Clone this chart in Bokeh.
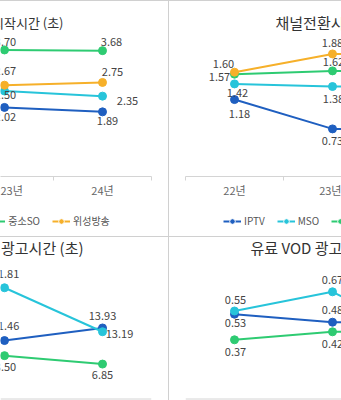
from bokeh.plotting import figure
from bokeh.models import (ColumnDataSource, Range1d, FixedTicker, Legend,
                          LegendItem, Span, Spacer, Label)
from bokeh.layouts import row, column
from bokeh.embed import file_html
from bokeh.resources import INLINE
from bokeh.core.properties import value

# ---------------- data ----------------
years = ["22년", "23년", "24년"]
series = ["IPTV", "MSO", "중소SO", "위성방송"]

# VOD 시작시간 (초) – visible years 23년, 24년
start_years = ["23년", "24년"]
start_iptv = [2.02, 1.89]
start_mso = [2.50, 2.35]
start_small = [3.70, 3.68]
start_sat = [2.67, 2.75]

# 채널전환시간 (초) – visible years 22년, 23년 (24년 only as a short stub)
switch_years = ["22년", "23년", "24년"]
switch_iptv = [1.18, 0.73, 0.72]
switch_mso = [1.42, 1.38, 1.37]
switch_small = [1.57, 1.62, 1.62]
switch_sat = [1.60, 1.88, 1.87]

# 무료 VOD 광고시간 (초)
free_years = ["23년", "24년"]
free_iptv = [11.46, 13.93]
free_mso = [21.81, 13.19]
free_small = [8.50, 6.85]

# 유료 VOD 광고시간 (초)
paid_years = ["22년", "23년", "24년"]
paid_iptv = [0.53, 0.48, 0.47]
paid_mso = [0.55, 0.67, 0.36]
paid_small = [0.37, 0.42, 0.42]

titles = ["VOD 시작시간 (초)", "채널전환시간 (초)", "무료 VOD 광고시간 (초)", "유료 VOD 광고시간 (초)"]

# ---------------- styles ----------------
colors = {"IPTV": "#1f5fc0", "MSO": "#27c4da", "중소SO": "#2ecb72", "위성방송": "#f6b02a"}
FONT = "Noto Sans CJK KR"
GRID = "#d4d4d4"

# label offsets in pixels (dx, dy) per panel / series / point
offsets = {
    "start": {"IPTV": [(1, 10), (5, 9)], "MSO": [(1, 4), (25, 5)],
              "중소SO": [(1, -8), (9, -9)], "위성방송": [(1, -14), (10, -10)]},
    "switch": {"IPTV": [(5, 14), (0, 12), (0, 12)], "MSO": [(3, 9), (1, 12), (0, 12)],
               "중소SO": [(-15, 3), (1, -9), (0, -9)], "위성방송": [(-11, -8), (0, -11), (0, -11)]},
    "free": {"IPTV": [(1, -15), (0, -12)], "MSO": [(1, -14), (17, 2)],
             "중소SO": [(1, 11), (0, 11)]},
    "paid": {"IPTV": [(1, 9), (0, -12), (0, -12)], "MSO": [(1, -11), (0, -12), (0, -12)],
             "중소SO": [(1, 12), (0, 12), (0, 12)]},
}

idx = {y: i for i, y in enumerate(years)}


def make_panel(key, yrs, data, width, height, x_start, x_end, y_start, y_end,
               b_left, b_right, b_top, b_bottom, with_axis, title=None,
               title_align="left", title_offset=0, title_standoff=0, title_size="15px"):
    p = figure(width=width, height=height, output_backend="svg", toolbar_location=None,
               x_range=Range1d(x_start, x_end), y_range=Range1d(y_start, y_end),
               y_axis_location=None, x_axis_location="below" if with_axis else None,
               min_border_left=b_left, min_border_right=b_right,
               min_border_top=b_top, min_border_bottom=b_bottom, title=title)
    p.grid.visible = False
    p.outline_line_color = None
    p.background_fill_color = "white"
    p.border_fill_color = "white"
    if title is not None:
        p.title.align = title_align
        p.title.offset = title_offset
        p.title.standoff = title_standoff
        p.title.vertical_align = "bottom"
        p.title.text_font = FONT
        p.title.text_font_size = title_size
        p.title.text_font_style = "normal"
        p.title.text_color = "#333"
    xs = [idx[y] for y in yrs]
    label_src = {"x": [], "y": [], "t": [], "dx": [], "dy": []}
    for name, vals in data.items():
        src = ColumnDataSource(dict(x=xs, y=vals))
        p.line("x", "y", source=src, line_color=colors[name], line_width=2)
        p.scatter("x", "y", source=src, size=8, marker="circle",
                  fill_color=colors[name], line_color=colors[name])
        for i, v in enumerate(vals):
            dx, dy = offsets[key][name][i]
            label_src["x"].append(xs[i])
            label_src["y"].append(v)
            label_src["t"].append(f"{v:.2f}")
            label_src["dx"].append(dx)
            label_src["dy"].append(dy)
    p.text("x", "y", text="t", x_offset="dx", y_offset="dy",
           source=ColumnDataSource(label_src), text_align="center", text_baseline="middle",
           text_font=value(FONT), text_font_size="11px", text_color="#444")
    if with_axis:
        ax = p.xaxis[0]
        ax.ticker = FixedTicker(ticks=[0, 1, 2], minor_ticks=[-0.5, 0.5, 1.5, 2.5])
        ax.major_label_overrides = {i: y for i, y in enumerate(years)}
        ax.axis_line_color = GRID
        ax.major_tick_line_color = None
        ax.major_tick_in = 0
        ax.major_tick_out = 0
        ax.minor_tick_line_color = GRID
        ax.minor_tick_in = 0
        ax.minor_tick_out = 4
        ax.major_label_standoff = 1
        ax.major_label_text_font = FONT
        ax.major_label_text_font_size = "11px"
        ax.major_label_text_color = "#666"
    else:
        p.add_layout(Span(location=0, dimension="width", line_color=GRID, line_width=1))
    return p


def strip(width, height, title=""):
    p = figure(width=width, height=height, output_backend="svg", toolbar_location=None,
               x_range=Range1d(0, 1), y_range=Range1d(0, 1), title=title,
               x_axis_location=None, y_axis_location=None,
               min_border_left=0, min_border_right=0, min_border_top=0, min_border_bottom=0)
    p.grid.visible = False
    p.outline_line_color = None
    return p


def legend_fig(width, height, x, y):
    """A strip that only holds the shared legend (IPTV / MSO / 중소SO / 위성방송)."""
    p = strip(width, height)
    items = []
    nan = float("nan")
    for n in series:
        src = ColumnDataSource(dict(x=[nan], y=[nan]))
        l = p.line("x", "y", source=src, line_color=colors[n], line_width=2)
        s = p.scatter("x", "y", source=src, size=6, marker="circle",
                      fill_color=colors[n], line_color="white", line_width=1)
        items.append(LegendItem(label=n, renderers=[l, s]))
    lg = Legend(items=items, orientation="horizontal", location=(x, y),
                glyph_width=18, glyph_height=14, label_height=14, label_standoff=3,
                spacing=12, padding=0, margin=0, border_line_color=None,
                background_fill_alpha=0, label_text_font=FONT,
                label_text_font_size="10px", label_text_color="#555")
    p.add_layout(lg, "center")
    return p


def title_fig(width, height, text, x, align):
    """A strip that holds a panel title, placed so that it is cut by the page edge."""
    p = strip(width, height, title=None)
    p.add_layout(Label(x=x, y=height / 2, x_units="screen", y_units="screen", text=text,
                       text_align=align, text_baseline="middle", text_font=FONT,
                       text_font_size="15px", text_color="#333"))
    return p


BAND = 98.0
TOP_B = 33
CHART_H = 200
LEG_H = 35
BT_H = 20          # bottom title strip height
BC_H = 143         # bottom chart height

# top-left
tl = make_panel("start", start_years,
                {"IPTV": start_iptv, "MSO": start_mso, "중소SO": start_small, "위성방송": start_sat},
                168, CHART_H, 1 - 4 / BAND, 1 - 4 / BAND + 151 / BAND, 0, (175 - TOP_B) / 34.2,
                0, 17, TOP_B, CHART_H - 175, True, titles[0], "right", 88, 6, "13px")
tl_leg = legend_fig(168, LEG_H, -121, 8)

# top-right
tr = make_panel("switch", switch_years,
                {"IPTV": switch_iptv, "MSO": switch_mso, "중소SO": switch_small, "위성방송": switch_sat},
                172, CHART_H, -0.5, -0.5 + 156 / BAND, 0, (175 - TOP_B) / 65.2,
                16, 0, TOP_B, CHART_H - 175, True, titles[1], "left", 90, 3, "15px")
tr_leg = legend_fig(172, LEG_H, 38, 8)

# bottom-left
bl_t = title_fig(168, BT_H, titles[2], 83, "right")
bl = make_panel("free", free_years,
                {"IPTV": free_iptv, "MSO": free_mso, "중소SO": free_small},
                168, BC_H, 1 - 4 / BAND, 1 - 4 / BAND + 151 / BAND,
                -1.5 / 5.1, -1.5 / 5.1 + BC_H / 5.1,
                0, 17, 0, 0, False)

# bottom-right
br_t = title_fig(172, BT_H, titles[3], 65, "left")
br = make_panel("paid", paid_years,
                {"IPTV": paid_iptv, "MSO": paid_mso, "중소SO": paid_small},
                172, BC_H, -0.5, -0.5 + 156 / BAND,
                -1.5 / 160, -1.5 / 160 + BC_H / 160,
                16, 0, 0, 0, False)


def line_div(w, h):
    return Spacer(width=w, height=h, styles={"background-color": "#d0d0d0"})


layout = column(
    line_div(341, 1),
    row(column(tl, tl_leg, spacing=0), line_div(1, 235), column(tr, tr_leg, spacing=0), spacing=0),
    line_div(341, 1),
    row(column(bl_t, bl, spacing=0), line_div(1, BT_H + BC_H), column(br_t, br, spacing=0), spacing=0),
    spacing=0,
)

open("out.html", "w").write(file_html(layout, INLINE))
